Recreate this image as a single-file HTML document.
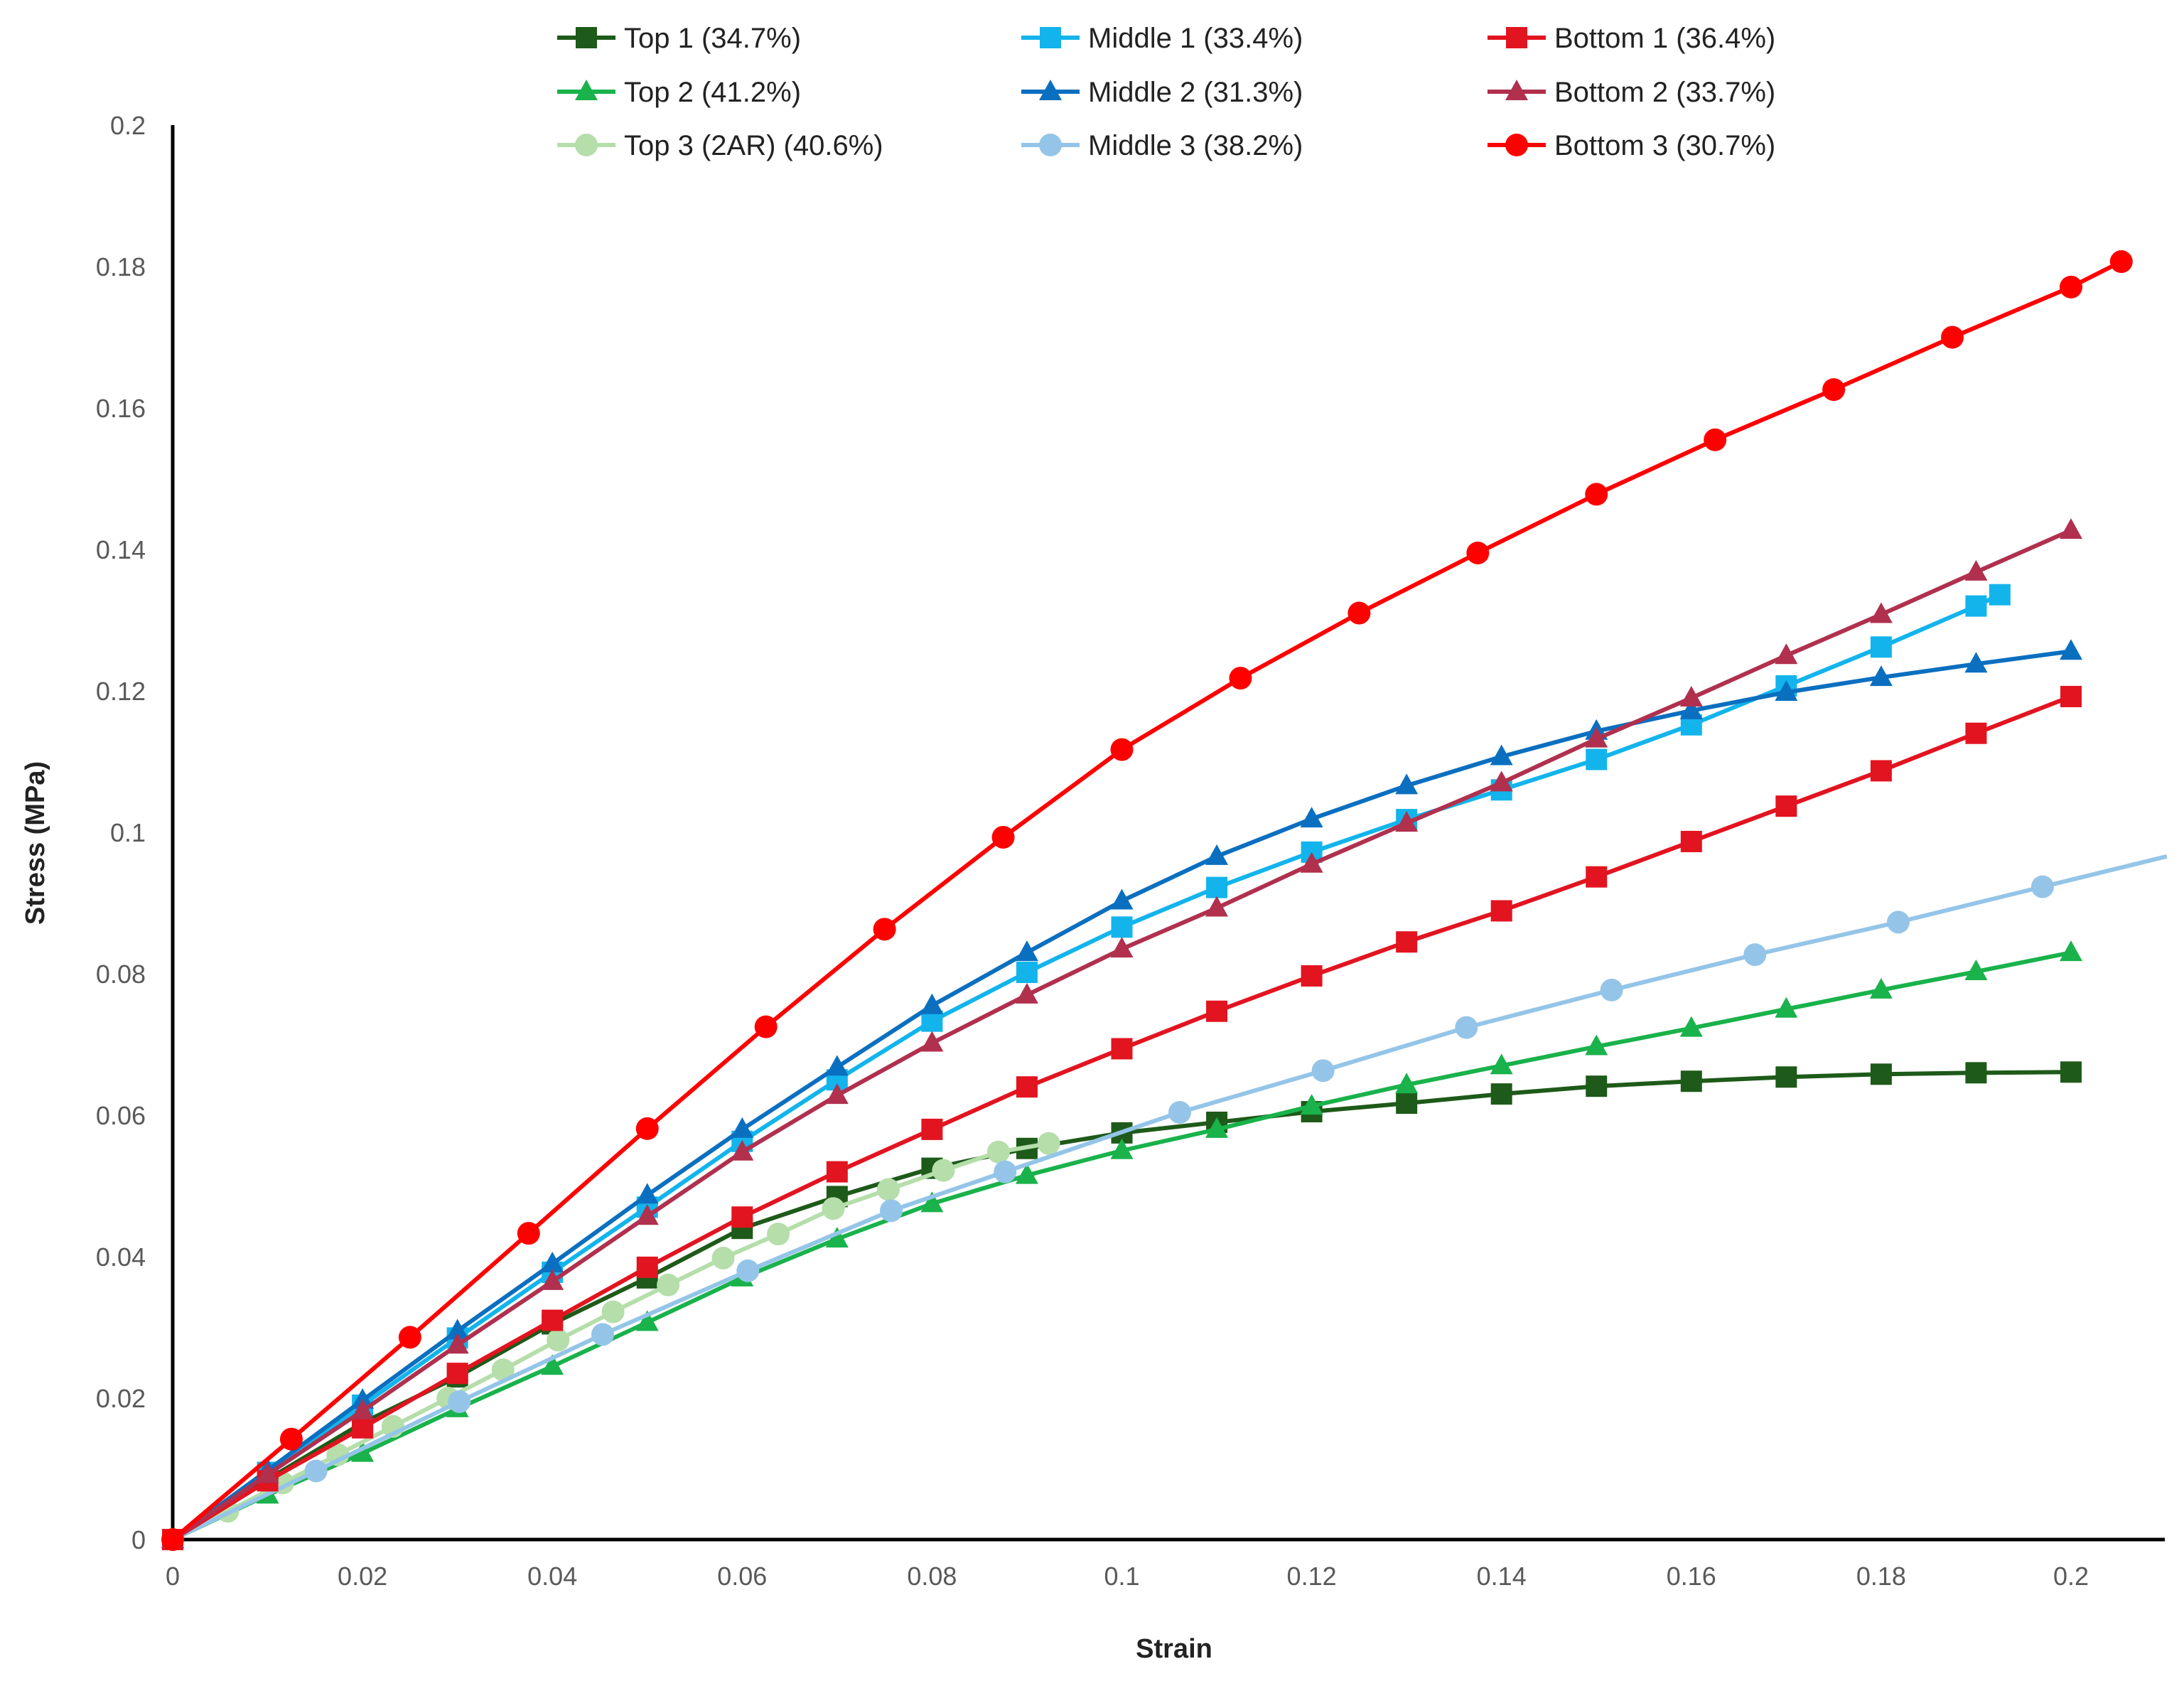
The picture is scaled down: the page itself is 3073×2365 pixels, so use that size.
<!DOCTYPE html>
<html><head><meta charset="utf-8"><style>
body{margin:0;background:#fff}
svg{display:block}
text{font-family:"Liberation Sans",sans-serif}
</style></head><body>
<svg id="chart" width="3073" height="2365" viewBox="0 0 3073 2365" xmlns="http://www.w3.org/2000/svg"></svg>
<script>
const xTicks=[0,0.02,0.04,0.06,0.08,0.1,0.12,0.14,0.16,0.18,0.2];
const xTickLabels=["0","0.02","0.04","0.06","0.08","0.1","0.12","0.14","0.16","0.18","0.2"];
const yTicks=[0,0.02,0.04,0.06,0.08,0.1,0.12,0.14,0.16,0.18,0.2];
const yTickLabels=["0","0.02","0.04","0.06","0.08","0.1","0.12","0.14","0.16","0.18","0.2"];
const stepX=[0,0.01,0.02,0.03,0.04,0.05,0.06,0.07,0.08,0.09,0.1,0.11,0.12,0.13,0.14,0.15,0.16,0.17,0.18,0.19,0.2];
const top1Y=[0,0.0085,0.0165,0.023,0.0305,0.037,0.044,0.0485,0.0525,0.0553,0.0575,0.059,0.0605,0.0617,0.063,0.0641,0.0648,0.0654,0.0658,0.066,0.0661];
const top2Y=[0,0.0063,0.0122,0.0185,0.0245,0.0307,0.037,0.0425,0.0475,0.0515,0.055,0.058,0.0613,0.0643,0.067,0.0697,0.0723,0.075,0.0777,0.0803,0.083];
const top3X=[0,0.0058,0.0116,0.0174,0.0232,0.029,0.0348,0.0406,0.0464,0.0522,0.058,0.0638,0.0696,0.0754,0.0812,0.087,0.0923];
const top3Y=[0,0.004,0.008,0.012,0.016,0.02,0.024,0.0282,0.0322,0.036,0.0398,0.0432,0.0468,0.0495,0.0522,0.0548,0.056];
const mid1X=[0,0.01,0.02,0.03,0.04,0.05,0.06,0.07,0.08,0.09,0.1,0.11,0.12,0.13,0.14,0.15,0.16,0.17,0.18,0.19,0.1925];
const mid1Y=[0,0.0095,0.019,0.0285,0.0378,0.047,0.0563,0.065,0.0733,0.0802,0.0866,0.0922,0.0972,0.1018,0.106,0.1103,0.1152,0.1207,0.1262,0.132,0.1336];
const mid2Y=[0,0.0098,0.0197,0.0295,0.039,0.0487,0.058,0.0668,0.0755,0.083,0.0903,0.0966,0.1019,0.1066,0.1107,0.1143,0.1172,0.1198,0.1219,0.1238,0.1256];
const mid3X=[0,0.0151,0.0302,0.0453,0.0606,0.0757,0.0877,0.1061,0.1212,0.1363,0.1516,0.1667,0.1818,0.197,0.2101];
const mid3Y=[0,0.0097,0.0195,0.029,0.038,0.0465,0.052,0.0604,0.0663,0.0724,0.0777,0.0827,0.0873,0.0923,0.0966];
const bot1Y=[0,0.0083,0.0158,0.0235,0.031,0.0385,0.0456,0.052,0.058,0.064,0.0694,0.0747,0.0797,0.0845,0.0889,0.0937,0.0987,0.1037,0.1087,0.114,0.1192];
const bot2Y=[0,0.0092,0.0182,0.0275,0.0365,0.0457,0.0548,0.0628,0.0702,0.077,0.0835,0.0893,0.0955,0.1013,0.107,0.1132,0.119,0.125,0.1308,0.1368,0.1427];
const bot3X=[0,0.0125,0.025,0.0375,0.05,0.0625,0.075,0.0875,0.1,0.1125,0.125,0.1375,0.15,0.1625,0.175,0.1875,0.2,0.2053];
const bot3Y=[0,0.0142,0.0286,0.0433,0.0581,0.0725,0.0863,0.0993,0.1117,0.1218,0.131,0.1395,0.1478,0.1555,0.1626,0.17,0.1771,0.1807];

const svg=document.getElementById('chart');
const NS='http://www.w3.org/2000/svg';
const X0=243,XS=13355,Y0=2166,YS=9950;
function sx(v){return X0+v*XS;}
function sy(v){return Y0-v*YS;}
function mk(tag,attrs,parent){const e=document.createElementNS(NS,tag);for(const k in attrs)e.setAttribute(k,attrs[k]);(parent||svg).appendChild(e);return e;}

const series=[
 {name:'Top 1 (34.7%)',x:stepX,y:top1Y,c:'#1e5a19',m:'sq',key:'top-1'},
 {name:'Top 2 (41.2%)',x:stepX,y:top2Y,c:'#19b24b',m:'tri',key:'top-2'},
 {name:'Top 3 (2AR) (40.6%)',x:top3X,y:top3Y,c:'#b5deaa',m:'ci',key:'top-3'},
 {name:'Middle 1 (33.4%)',x:mid1X,y:mid1Y,c:'#13b4ec',m:'sq',key:'middle-1'},
 {name:'Middle 2 (31.3%)',x:stepX,y:mid2Y,c:'#0b6fc0',m:'tri',key:'middle-2'},
 {name:'Middle 3 (38.2%)',x:mid3X,y:mid3Y,c:'#94c5e8',m:'ci',key:'middle-3',skipLast:true},
 {name:'Bottom 1 (36.4%)',x:stepX,y:bot1Y,c:'#e21420',m:'sq',key:'bottom-1'},
 {name:'Bottom 2 (33.7%)',x:stepX,y:bot2Y,c:'#b0304e',m:'tri',key:'bottom-2'},
 {name:'Bottom 3 (30.7%)',x:bot3X,y:bot3Y,c:'#ff0000',m:'ci',key:'bottom-3'}
];
function marker(type,cx,cy,c,g){
 let e;
 if(type==='sq')e=mk('rect',{x:cx-15,y:cy-15,width:30,height:30,fill:c},g);
 else if(type==='tri')e=mk('polygon',{points:`${cx},${cy-17} ${cx+16},${cy+12} ${cx-16},${cy+12}`,fill:c},g);
 else e=mk('circle',{cx:cx,cy:cy,r:16,fill:c},g);
 return e;
}
// axes
const ax=mk('line',{x1:X0,y1:Y0,x2:3046,y2:Y0,stroke:'#000','stroke-width':5});


const ay=mk('line',{x1:X0,y1:176,x2:X0,y2:Y0,stroke:'#000','stroke-width':5});


xTicks.forEach((v,i)=>{
 const t=mk('text',{x:sx(v),y:2230,'text-anchor':'middle','font-size':36,fill:'#595959'});
 t.textContent=xTickLabels[i];
 
 
});
yTicks.forEach((v,i)=>{
 const t=mk('text',{x:205,y:sy(v)+13,'text-anchor':'end','font-size':36,fill:'#595959'});
 t.textContent=yTickLabels[i];
 
 
});
const xt=mk('text',{x:1652,y:2332,'text-anchor':'middle','font-size':38,'font-weight':'bold',fill:'#222'});
xt.textContent='Strain';


const yt=mk('text',{x:0,y:0,'text-anchor':'middle','font-size':38,'font-weight':'bold',fill:'#222',transform:'translate(62,1186) rotate(-90)'});
yt.textContent='Stress (MPa)';


// series
series.forEach(s=>{
 const g=mk('g',{});
 
 
 const pts=s.x.map((v,i)=>sx(v)+','+sy(s.y[i])).join(' ');
 const pl=mk('polyline',{points:pts,fill:'none',stroke:s.c,'stroke-width':6,'stroke-linejoin':'round'},g);
 
 
 const n=s.skipLast?s.x.length-1:s.x.length;
 for(let i=0;i<n;i++){
  const m=marker(s.m,sx(s.x[i]),sy(s.y[i]),s.c,g);
  
  
 }
});
// legend
const colX=[784,1437,2093],rowY=[53,129,204];
series.forEach((s,i)=>{
 const lx=colX[Math.floor(i/3)],ly=rowY[i%3];
 const g=mk('g',{});
 
 
 mk('line',{x1:lx,y1:ly,x2:lx+82,y2:ly,stroke:s.c,'stroke-width':6},g);
 marker(s.m,lx+41,ly,s.c,g);
 const t=mk('text',{x:lx+94,y:ly+14,'font-size':40,fill:'#222'},g);
 t.textContent=s.name;
});
</script>
</body></html>
